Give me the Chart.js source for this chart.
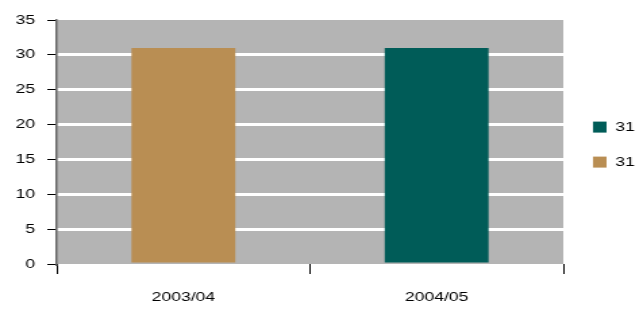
<!DOCTYPE html>
<html>
<head>
<meta charset="utf-8">
<script src="https://cdn.jsdelivr.net/npm/chart.js@4/dist/chart.umd.min.js"></script>
<style>
  html, body { margin: 0; padding: 0; background: #fff; overflow: hidden; }
  /* the original picture is stretched sideways, so draw narrow and scale */
  #wrap { width: 476px; height: 309px; transform: scaleX(1.3508); transform-origin: 0 0; }
</style>
</head>
<body>
<div id="wrap"><canvas id="chart"></canvas></div>
<script>
const categories = ['2003/04', '2004/05'];
const seriesNames = ['31', '31'];
const tealValues = [null, 31];
const tanValues = [31, null];
const yTicks = [0, 5, 10, 15, 20, 25, 30, 35];

Chart.defaults.font.family = "'Liberation Sans', Arial, sans-serif";
Chart.defaults.font.size = 13;
Chart.defaults.color = '#000';

const plotBg = {
  id: 'plotBg',
  beforeDraw(chart) {
    const a = chart.chartArea;
    const ctx = chart.ctx;
    ctx.save();
    ctx.fillStyle = '#b4b4b4';
    ctx.fillRect(a.left, a.top, a.right - a.left, a.bottom - a.top);
    ctx.restore();
  }
};

new Chart(document.getElementById('chart').getContext('2d'), {
  type: 'bar',
  data: {
    labels: categories,
    datasets: [
      { label: seriesNames[0], data: tealValues, backgroundColor: '#005c58', grouped: false },
      { label: seriesNames[1], data: tanValues, backgroundColor: '#b98e53', grouped: false }
    ]
  },
  options: {
    responsive: true,
    maintainAspectRatio: false,
    animation: false,
    events: [],
    barPercentage: 0.41,
    categoryPercentage: 1,
    layout: { padding: { top: 20, left: 0, bottom: 0, right: 0 } },
    plugins: {
      tooltip: { enabled: false },
      legend: {
        position: 'right',
        align: 'start',
        maxWidth: 59,
        // empty title only used to push the items down to the middle of the plot
        title: { display: true, text: '', padding: { top: 63, bottom: 0 } },
        labels: { boxWidth: 10, boxHeight: 11, padding: 22, color: '#000' }
      }
    },
    scales: {
      x: {
        grid: { offset: true, drawOnChartArea: false, tickLength: 10, tickColor: '#000', tickWidth: 1 },
        border: { display: false },
        ticks: { padding: 16, color: '#000' },
        afterFit(scale) { scale.height = 45; }
      },
      y: {
        min: yTicks[0],
        max: yTicks[yTicks.length - 1],
        afterBuildTicks(scale) { scale.ticks = yTicks.map(v => ({ value: v })); },
        grid: {
          color: c => (c.tick && (c.tick.value === 0 || c.tick.value === 35)) ? 'rgba(0,0,0,0)' : '#ffffff',
          lineWidth: 3,
          tickColor: '#000',
          tickWidth: 1,
          tickLength: 7
        },
        border: { color: '#666', width: 1.5 },
        ticks: { padding: 9, color: '#000' },
        afterFit(scale) { scale.width = 42; }
      }
    }
  },
  plugins: [plotBg]
});
</script>
</body>
</html>
